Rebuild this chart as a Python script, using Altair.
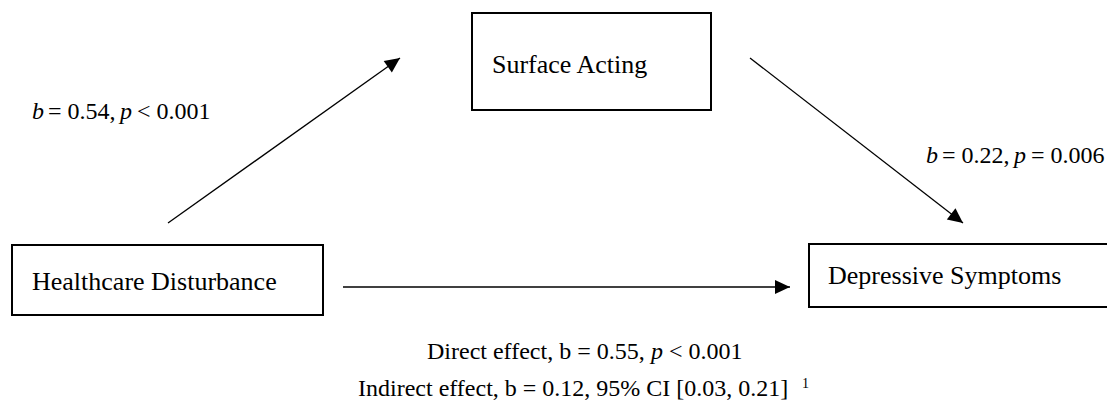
import math
import altair as alt
import pandas as pd

# ---------------- data ----------------
node_labels = ["Surface Acting", "Healthcare Disturbance", "Depressive Symptoms"]

path_names = ["a path", "b path", "c' path"]

# segments of the path / effect annotations (text, italic flag)
a_label = [("b", True), ("= 0.54,", False), ("p", True), ("< 0.001", False)]
b_label = [("b", True), ("= 0.22,", False), ("p", True), ("= 0.006", False)]
direct_label = [("Direct effect, b = 0.55,", False), ("p", True), ("< 0.001", False)]
indirect_label = [("Indirect effect, b = 0.12, 95% CI [0.03, 0.21]", False)]
footnote_mark = "1"

# ---------------- layout (page pixels) ----------------
W, H = 1099, 395
X0, Y0 = 8, 8
FONT = "Liberation Serif"
FS = 24
FS_BOX = 26

box_x1 = [472, 12, 809]
box_x2 = [711, 323, 1130]
box_y1 = [13, 245, 244]
box_y2 = [110, 315, 307]
box_tx = [492, 32, 828]
box_ty = [73, 290, 284]

arr_x1 = [168, 750, 343]
arr_y1 = [223, 58, 287]
arr_x2 = [400, 963, 790]
arr_y2 = [58, 223, 287]

a_pos = ([32, 48, 120, 137], 119)
b_pos = ([926, 942, 1014, 1031], 163)
direct_pos = ([427, 651, 669], 359)
indirect_pos = ([358], 396)
foot_pos = (802, 388)

# ---------------- tables ----------------
boxes = pd.DataFrame({"label": node_labels, "x1": box_x1, "x2": box_x2,
                      "y1": box_y1, "y2": box_y2, "tx": box_tx, "ty": box_ty})

arrows = pd.DataFrame({"name": path_names, "x1": arr_x1, "y1": arr_y1,
                       "x2": arr_x2, "y2": arr_y2})
arrows["angle"] = [
    (math.degrees(math.atan2(x2 - x1, -(y2 - y1))) + 360) % 360
    for x1, y1, x2, y2 in zip(arr_x1, arr_y1, arr_x2, arr_y2)
]

rows = []
for segs, (xs, yb) in [(a_label, a_pos), (b_label, b_pos),
                       (direct_label, direct_pos), (indirect_label, indirect_pos)]:
    for (t, it), x in zip(segs, xs):
        rows.append({"text": t, "italic": it, "x": x, "y": yb})
segs_df = pd.DataFrame(rows)
foot_df = pd.DataFrame({"text": [footnote_mark], "x": [foot_pos[0]], "y": [foot_pos[1]]})

xs = alt.Scale(domain=[X0, X0 + W], nice=False, zero=False)
ys = alt.Scale(domain=[Y0, Y0 + H], nice=False, zero=False, reverse=True)

rects = alt.Chart(boxes).mark_rect(fill="white", stroke="black", strokeWidth=2, clip=True).encode(
    x=alt.X("x1:Q", scale=xs, axis=None), x2="x2:Q",
    y=alt.Y("y1:Q", scale=ys, axis=None), y2="y2:Q",
)
box_text = alt.Chart(boxes).mark_text(align="left", baseline="alphabetic", font=FONT,
                                      fontSize=FS_BOX, color="black").encode(
    x=alt.X("tx:Q", scale=xs, axis=None), y=alt.Y("ty:Q", scale=ys, axis=None), text="label:N"
)

lines = alt.Chart(arrows).mark_rule(color="black", strokeWidth=1.3).encode(
    x=alt.X("x1:Q", scale=xs, axis=None), x2="x2:Q",
    y=alt.Y("y1:Q", scale=ys, axis=None), y2="y2:Q",
)
heads = alt.Chart(arrows).mark_point(shape="M0,0L-0.47,1L0.47,1Z", filled=True, fill="black",
                                     stroke=None, size=900, opacity=1).encode(
    x=alt.X("x2:Q", scale=xs, axis=None), y=alt.Y("y2:Q", scale=ys, axis=None),
    angle=alt.Angle("angle:Q", scale=None),
)

reg = alt.Chart(segs_df).transform_filter("!datum.italic").mark_text(
    align="left", baseline="alphabetic", font=FONT, fontSize=FS, color="black").encode(
    x=alt.X("x:Q", scale=xs, axis=None), y=alt.Y("y:Q", scale=ys, axis=None), text="text:N")
ital = alt.Chart(segs_df).transform_filter("datum.italic").mark_text(
    align="left", baseline="alphabetic", font=FONT, fontSize=FS, fontStyle="italic",
    color="black").encode(
    x=alt.X("x:Q", scale=xs, axis=None), y=alt.Y("y:Q", scale=ys, axis=None), text="text:N")
foot = alt.Chart(foot_df).mark_text(align="left", baseline="alphabetic", font=FONT,
                                    fontSize=14, color="black").encode(
    x=alt.X("x:Q", scale=xs, axis=None), y=alt.Y("y:Q", scale=ys, axis=None), text="text:N")

chart = alt.layer(rects, box_text, lines, heads, reg, ital, foot).properties(
    width=W, height=H, padding=0, autosize=alt.AutoSizeParams(type="none"),
    background="white",
).configure_view(stroke=None)

chart.save("out.html", embed_options={"renderer": "svg", "actions": False})
